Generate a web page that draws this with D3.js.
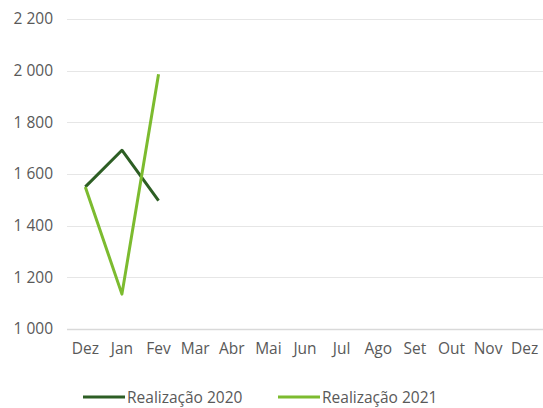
<!DOCTYPE html>
<html>
<head>
<meta charset="utf-8">
<script src="https://cdn.jsdelivr.net/npm/d3@7"></script>
<style>
  body { margin: 0; background: #fff; }
  svg { display: block; font-family: "Open Sans", sans-serif; }
</style>
</head>
<body>
<svg width="543" height="408"></svg>
<script>
var months = ["Dez", "Jan", "Fev", "Mar", "Abr", "Mai", "Jun", "Jul", "Ago", "Set", "Out", "Nov", "Dez"];
var real2020 = [1550, 1692, 1497];
var real2021 = [1550, 1135, 1986];
var yTicks = [1000, 1200, 1400, 1600, 1800, 2000, 2200];
var seriesNames = ["Realização 2020", "Realização 2021"];
var seriesColors = ["#2d5e24", "#7cbb2f"];

var svg = d3.select("svg"),
	plotLeft = 67, plotRight = 543, plotTop = 19, plotBottom = 329,
	fontSize = "15.5px";

var x = d3.scaleBand()
	.domain(d3.range(months.length))
	.range([plotLeft, plotRight]);

var y = d3.scaleLinear()
	.domain([1000, 2200])
	.range([plotBottom, plotTop]);

// grid
svg.append("g")
	.selectAll("line")
	.data(yTicks)
	.join("line")
	.attr("x1", plotLeft)
	.attr("x2", plotRight)
	.attr("y1", function(d){ return Math.round(y(d)) + 0.5; })
	.attr("y2", function(d){ return Math.round(y(d)) + 0.5; })
	.attr("stroke", function(d){ return d == 1000 ? "#d9d9d9" : "#e6e6e6"; })
	.attr("stroke-width", function(d){ return d == 1000 ? 1.5 : 1; });

// y axis labels
var yAxis = svg.append("g")
	.attr("transform", "translate(" + (plotLeft - 14) + ",0)")
	.call(d3.axisLeft(y).tickValues(yTicks).tickSize(0).tickPadding(0)
		.tickFormat(function(d){ return d3.format(",")(d).replace(",", " "); }));
yAxis.select(".domain").remove();
yAxis.selectAll("text").attr("fill", "#595959").style("font-size", fontSize).style("font-family", "'Open Sans', sans-serif");

// x axis labels
var xAxis = svg.append("g")
	.attr("transform", "translate(0," + plotBottom + ")")
	.call(d3.axisBottom(x).tickSize(0).tickPadding(14)
		.tickFormat(function(i){ return months[i]; }));
xAxis.select(".domain").remove();
xAxis.selectAll("text").attr("fill", "#595959").style("font-size", fontSize).style("font-family", "'Open Sans', sans-serif");

var line = d3.line()
	.x(function(d, i){ return x(i) + x.bandwidth() / 2; })
	.y(function(d){ return y(d); });

[real2020, real2021].forEach(function(s, k){
	svg.append("path")
		.datum(s)
		.attr("d", line)
		.attr("fill", "none")
		.attr("stroke", seriesColors[k])
		.attr("stroke-width", 3)
		.attr("stroke-linejoin", "round");
});

// legend
var legendX = [83, 278];
seriesNames.forEach(function(n, k){
	var g = svg.append("g").attr("transform", "translate(" + legendX[k] + ",397)");
	g.append("line")
		.attr("x1", 0).attr("x2", 42)
		.attr("stroke", seriesColors[k])
		.attr("stroke-width", 3);
	g.append("text")
		.attr("x", 44)
		.attr("y", 5.5)
		.attr("fill", "#595959")
		.style("font-size", fontSize)
		.text(n);
});
</script>
</body>
</html>
